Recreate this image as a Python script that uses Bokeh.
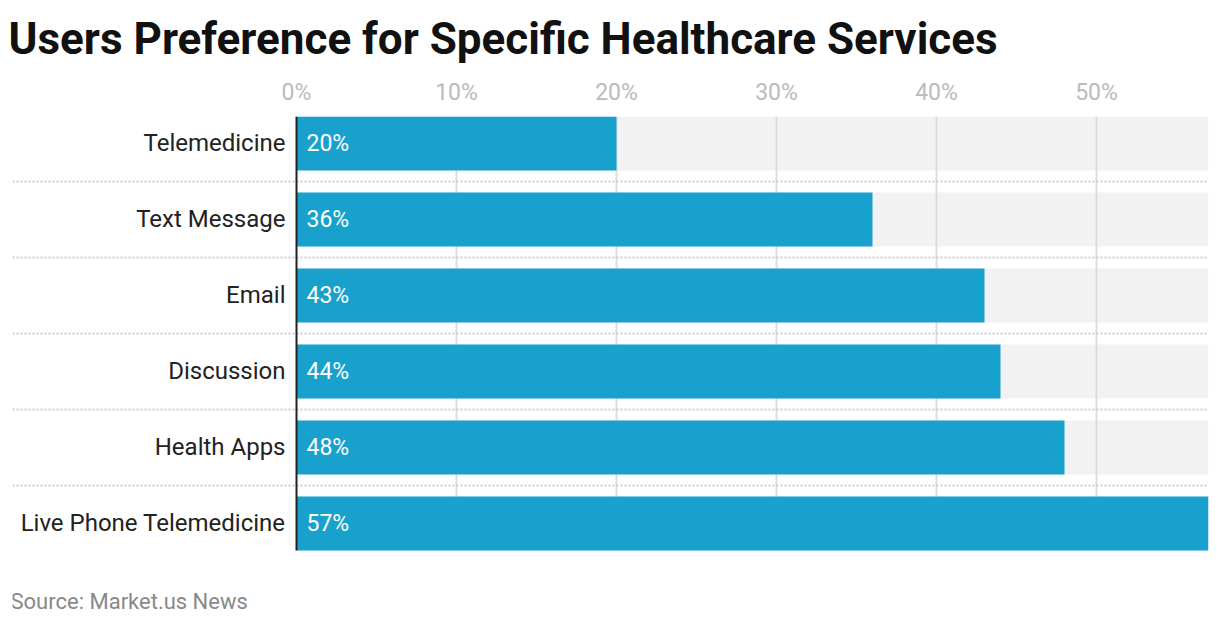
from bokeh.plotting import figure
from bokeh.models import Range1d, FixedTicker, CustomJSTickFormatter
from bokeh.core.properties import value
from bokeh.embed import file_html
from bokeh.resources import INLINE

categories = ["Telemedicine", "Text Message", "Email", "Discussion", "Health Apps", "Live Phone Telemedicine"]
values = [20, 36, 43, 44, 48, 57]
tick_values = [0, 10, 20, 30, 40, 50]
source_text = "Source: Market.us News"

FONT = "Roboto"
n = len(categories)
ys = list(range(n))
half = 0.355
x_start = -17.75
x_end = max(values)

HEIGHT = 620
TOP = 116
ROW_PX = 76
frame_h = HEIGHT - TOP
y_bottom = -half + frame_h / ROW_PX

p = figure(width=1212, height=HEIGHT, output_backend="svg", toolbar_location=None,
           x_range=Range1d(x_start, x_end), y_range=Range1d(y_bottom, -half),
           x_axis_location="above", min_border_left=12, min_border_right=4,
           min_border_top=TOP, min_border_bottom=0)
p.outline_line_color = None
p.background_fill_color = "white"
p.border_fill_color = "white"

p.title.text = "Users Preference for Specific Healthcare Services"
p.title.text_font = FONT
p.title.text_font_size = "44px"
p.title.text_font_style = "bold"
p.title.text_color = "#111111"
p.title.align = "left"
p.title.offset = -4
p.title.standoff = 21

# background bands
bands = p.hbar(y=ys, left=0, right=x_end, height=2 * half, color="#f2f2f2", line_color=None)

# vertical gridlines at tick values (limited to the bar area)
p.segment(x0=tick_values[1:], x1=tick_values[1:], y0=-half, y1=n - 1 + half,
          line_color="#dddddd", line_width=2)

# bars
p.hbar(y=ys, left=0, right=values, height=2 * half, color="#19a1cd", line_color=None)

# separators
seps = [i + 0.5 for i in range(n - 1)]
p.segment(x0=x_start, x1=x_end, y0=seps, y1=seps, line_color="#cccccc", line_width=2, line_dash="2 2")

# zero axis line
p.segment(x0=[0], x1=[0], y0=[-half], y1=[n - 1 + half], line_color="#222222", line_width=2)

# category labels
p.text(x=0, y=ys, text=categories, x_offset=-11, text_align="right", text_baseline="middle",
       text_font=value(FONT), text_font_size="24px", text_color="#222222")
# value labels
p.text(x=0, y=ys, text=[f"{v}%" for v in values], x_offset=10, text_align="left", text_baseline="middle",
       text_font=value(FONT), text_font_size="23px", text_color="white")

# source note
p.text(x=[x_start], y=[n - 1 + half], text=[source_text], x_offset=-2, y_offset=51,
       text_align="left", text_baseline="middle",
       text_font=value(FONT), text_font_size="22px", text_color="#888888")

ax = p.xaxis[0]
ax.ticker = FixedTicker(ticks=tick_values)
ax.formatter = CustomJSTickFormatter(code="return tick + '%';")
ax.axis_line_color = None
ax.major_tick_line_color = None
ax.minor_tick_line_color = None
ax.major_label_text_font = FONT
ax.major_label_text_font_size = "23px"
ax.major_label_text_color = "#bbbbbb"
ax.major_label_standoff = 5
p.yaxis.visible = False
p.grid.visible = False

open("out.html", "w").write(file_html(p, INLINE))
